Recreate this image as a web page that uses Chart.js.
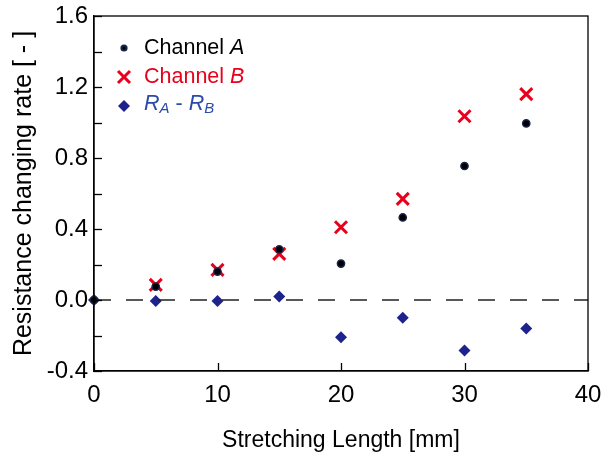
<!DOCTYPE html>
<html>
<head>
<meta charset="utf-8">
<script src="https://cdn.jsdelivr.net/npm/chart.js@4"></script>
<style>
  body { margin: 0; background: #fff; }
</style>
</head>
<body>
<canvas id="myChart" width="603" height="454"></canvas>
<script>
var LENGTHS = [0, 5, 10, 15, 20, 25, 30, 35];
var CHANNEL_A = [0, 0.075, 0.16, 0.285, 0.205, 0.465, 0.755, 0.995];
var CHANNEL_B = [null, 0.085, 0.17, 0.26, 0.41, 0.57, 1.035, 1.16];
var DIFF_AB = [0, -0.005, -0.005, 0.02, -0.21, -0.10, -0.285, -0.16];
var X_TICKS = [0, 10, 20, 30, 40];
var Y_LABELS = [-0.4, 0.0, 0.4, 0.8, 1.2, 1.6];

function toPoints(ys) {
  var pts = [];
  for (var i = 0; i < LENGTHS.length; i++) {
    if (ys[i] !== null) pts.push({ x: LENGTHS[i], y: ys[i] });
  }
  return pts;
}

var FONT = 'Liberation Sans, Arial, sans-serif';

// inward ticks + closed frame
var framePlugin = {
  id: 'frame',
  afterDraw: function (chart) {
    var c = chart.ctx, a = chart.chartArea;
    var xs = chart.scales.x, ys = chart.scales.y;
    c.save();
    c.strokeStyle = '#000';
    c.lineWidth = 1.3;
    c.strokeRect(a.left, a.top, a.right - a.left, a.bottom - a.top);
    ys.ticks.forEach(function (t) {
      var py = Math.round(ys.getPixelForValue(t.value)) + 0.5;
      c.beginPath(); c.moveTo(a.left, py); c.lineTo(a.left + 8, py); c.stroke();
    });
    xs.ticks.forEach(function (t) {
      var px = Math.round(xs.getPixelForValue(t.value)) + 0.5;
      c.beginPath(); c.moveTo(px, a.bottom); c.lineTo(px, a.bottom - 8); c.stroke();
    });
    c.restore();
  }
};

// legend with italic letters and subscripts
var legendPlugin = {
  id: 'richLegend',
  afterDraw: function (chart) {
    var c = chart.ctx;
    var mx = 124, tx = 144;
    var rows = [48, 77, 106];
    c.save();
    c.fillStyle = '#1a2348';
    c.beginPath(); c.arc(mx, rows[0], 3.6, 0, Math.PI * 2); c.fill();
    c.fillStyle = '#000';
    c.beginPath(); c.arc(mx, rows[0], 1.5, 0, Math.PI * 2); c.fill();
    c.strokeStyle = '#e8001c'; c.lineWidth = 3;
    c.beginPath();
    c.moveTo(mx - 6, rows[1] - 6); c.lineTo(mx + 6, rows[1] + 6);
    c.moveTo(mx + 6, rows[1] - 6); c.lineTo(mx - 6, rows[1] + 6);
    c.stroke();
    c.fillStyle = '#1e228c';
    c.beginPath();
    c.moveTo(mx, rows[2] - 6); c.lineTo(mx + 6, rows[2]); c.lineTo(mx, rows[2] + 6); c.lineTo(mx - 6, rows[2]);
    c.closePath(); c.fill();

    c.textBaseline = 'middle';
    function seg(parts, x, y, color) {
      c.fillStyle = color;
      parts.forEach(function (p) {
        c.font = (p.it ? 'italic ' : '') + (p.sub ? 15 : 21.5) + 'px ' + FONT;
        c.fillText(p.t, x, y + (p.sub ? 5 : 0));
        x += c.measureText(p.t).width;
      });
    }
    seg([{ t: 'Channel ' }, { t: 'A', it: true }], tx, rows[0], '#000');
    seg([{ t: 'Channel ' }, { t: 'B', it: true }], tx, rows[1], '#e8001c');
    seg([{ t: 'R', it: true }, { t: 'A', it: true, sub: true }, { t: ' - ' },
         { t: 'R', it: true }, { t: 'B', it: true, sub: true }], tx, rows[2] - 2, '#2c4aa8');
    c.restore();
  }
};

const ctx = document.getElementById('myChart');
new Chart(ctx, {
  type: 'scatter',
  data: {
    datasets: [{
      label: 'zero',
      type: 'line',
      data: [{ x: 0, y: 0 }, { x: 40, y: 0 }],
      borderColor: '#222',
      borderWidth: 1.5,
      borderDash: [17, 15],
      pointRadius: 0
    }, {
      label: 'Channel A',
      data: toPoints(CHANNEL_A),
      pointStyle: 'circle',
      pointRadius: 3.6,
      backgroundColor: '#000',
      borderColor: '#1a2348',
      borderWidth: 1.5
    }, {
      label: 'Channel B',
      data: toPoints(CHANNEL_B),
      pointStyle: 'crossRot',
      pointRadius: 8.5,
      borderColor: '#e8001c',
      borderWidth: 3
    }, {
      label: 'RA - RB',
      data: toPoints(DIFF_AB),
      pointStyle: 'rectRot',
      pointRadius: 6,
      backgroundColor: '#1e228c',
      borderColor: '#1e228c',
      borderWidth: 0
    }]
  },
  options: {
    responsive: false,
    animation: false,
    clip: false,
    layout: { padding: { top: 16, right: 15, left: 0, bottom: 0 } },
    plugins: {
      legend: { display: false },
      tooltip: { enabled: false }
    },
    scales: {
      x: {
        type: 'linear',
        min: 0,
        max: 40,
        afterBuildTicks: function (s) { s.ticks = X_TICKS.map(function (v) { return { value: v }; }); },
        grid: { display: false, tickLength: 0 },
        border: { display: true, color: '#000', width: 1.3 },
        ticks: { color: '#000', font: { family: FONT, size: 24 }, padding: 10 },
        title: { display: true, text: 'Stretching Length [mm]', color: '#000',
                 font: { family: FONT, size: 23 }, padding: { top: 10, bottom: 0 } },
        afterFit: function (s) { s.height = 83; s.paddingLeft = 0; s.paddingRight = 0; }
      },
      y: {
        min: -0.4,
        max: 1.6,
        ticks: {
          stepSize: 0.2,
          color: '#000',
          font: { family: FONT, size: 24 },
          padding: 6,
          callback: function (v) {
            var r = Math.round(v * 10) / 10;
            return Y_LABELS.some(function (l) { return Math.abs(l - r) < 1e-6; }) ? r.toFixed(1) : '';
          }
        },
        grid: { display: false, tickLength: 0 },
        border: { display: true, color: '#000', width: 1.3 },
        title: { display: true, text: 'Resistance changing rate [ - ]', color: '#000',
                 font: { family: FONT, size: 25 }, padding: { top: 9, bottom: 0 } },
        afterFit: function (s) { s.width = 94; s.paddingTop = 0; s.paddingBottom = 0; }
      }
    }
  },
  plugins: [framePlugin, legendPlugin]
});
</script>
</body>
</html>
